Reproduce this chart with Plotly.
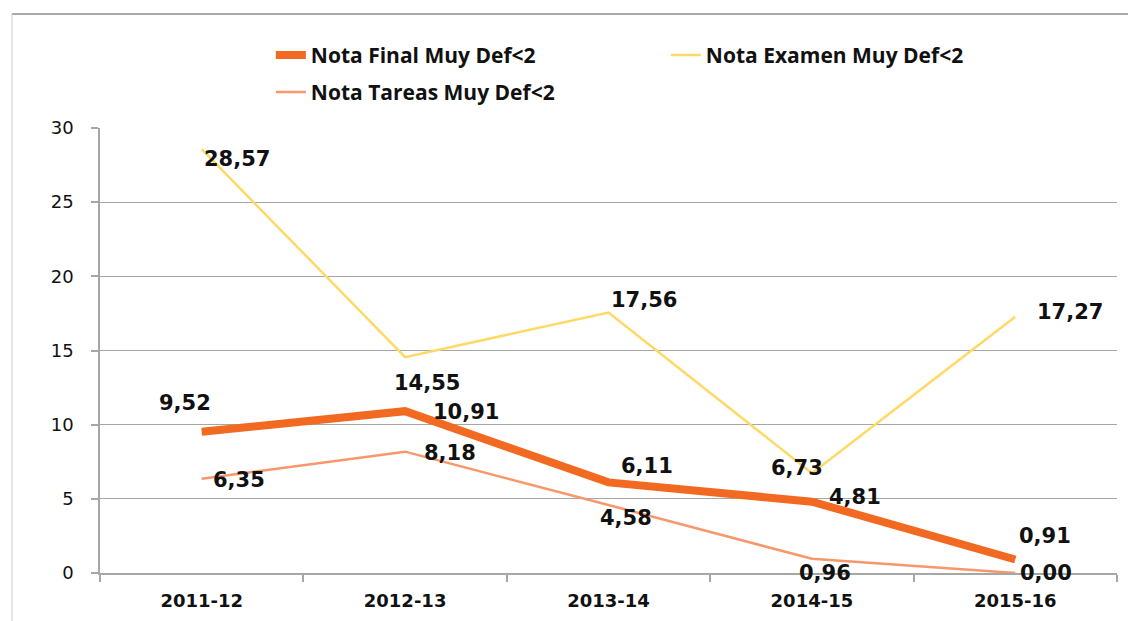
import plotly.graph_objects as go

categories = ["2011-12", "2012-13", "2013-14", "2014-15", "2015-16"]
nota_final = [9.52, 10.91, 6.11, 4.81, 0.91]
nota_examen = [28.57, 14.55, 17.56, 6.73, 17.27]
nota_tareas = [6.35, 8.18, 4.58, 0.96, 0.00]
y_ticks = [0, 5, 10, 15, 20, 25, 30]

names = ["Nota Final Muy Def<2", "Nota Examen Muy Def<2", "Nota Tareas Muy Def<2"]
colors = ["#F26A21", "#FFD965", "#F7976A"]
widths = [8, 2.5, 2.5]
legend_ids = ["legend", "legend", "legend2"]

# label offsets (px) relative to each point
offsets = {
    0: [(-17, 29), (61, -1), (38, 16), (43, 5), (30, 24)],
    1: [(35, -10), (22, -26), (35, 13), (-15, 5), (55, 5)],
    2: [(37, -1), (45, -1), (17, -13), (13, -14), (31, 0)],
}

fig = go.Figure()
series = [nota_final, nota_examen, nota_tareas]

for i, vals in enumerate(series):
    fig.add_trace(go.Scatter(
        x=categories, y=vals, mode="lines", name=names[i],
        line=dict(color=colors[i], width=widths[i]),
        hoverinfo="skip", legend=legend_ids[i],
    ))

annotations = []
for i, vals in enumerate(series):
    for j, v in enumerate(vals):
        dx, dy = offsets[i][j]
        annotations.append(dict(
            x=categories[j], y=v, xref="x", yref="y",
            text=f"{v:.2f}".replace(".", ","),
            showarrow=False, xshift=dx, yshift=dy,
            font=dict(family="DejaVu Sans", size=21, color="#111111", weight="bold"),
        ))

legend_font = dict(family="Open Sans", size=21, color="#111111", weight="bold")

# page body has an 8px margin, so the figure is sized/offset to compensate
fig.update_layout(
    width=1128, height=613,
    margin=dict(l=92, r=19, t=120, b=48, autoexpand=False),
    paper_bgcolor="white", plot_bgcolor="white",
    showlegend=True,
    legend=dict(
        orientation="h", x=0.168, xanchor="left", y=1.2094, yanchor="top",
        font=legend_font, entrywidth=350, tracegroupgap=0, bgcolor="rgba(0,0,0,0)",
    ),
    legend2=dict(
        orientation="h", x=0.168, xanchor="left", y=1.1263, yanchor="top",
        font=legend_font, tracegroupgap=0, bgcolor="rgba(0,0,0,0)",
    ),
    annotations=annotations,
    shapes=[
        dict(type="line", xref="paper", yref="paper", x0=-0.0865, x1=1.03, y0=1.256, y1=1.256,
             line=dict(color="#8c8c8c", width=1.5)),
        dict(type="line", xref="paper", yref="paper", x0=-0.0865, x1=-0.0865, y0=1.256, y1=-0.12,
             line=dict(color="#cccccc", width=1)),
    ],
)

fig.update_xaxes(
    type="category", range=[-0.5, 4.5], showgrid=False,
    showline=True, linecolor="#a6a6a6", linewidth=1.5,
    ticks="outside", tickson="boundaries", ticklen=7, tickcolor="#a6a6a6", tickwidth=1.5,
    tickfont=dict(family="DejaVu Sans", size=18, color="#111111", weight="bold"),
    ticklabelstandoff=11, automargin=False,
)
fig.update_yaxes(
    range=[0, 30], tickvals=y_ticks, showgrid=True, gridcolor="#a6a6a6", gridwidth=1.2,
    showline=True, linecolor="#a6a6a6", linewidth=1.5, zeroline=False,
    ticks="outside", ticklen=7, tickcolor="#a6a6a6", tickwidth=1.5,
    tickfont=dict(family="DejaVu Sans", size=18, color="#111111"),
    ticklabelstandoff=14, automargin=False,
)

fig.write_html("out.html")
